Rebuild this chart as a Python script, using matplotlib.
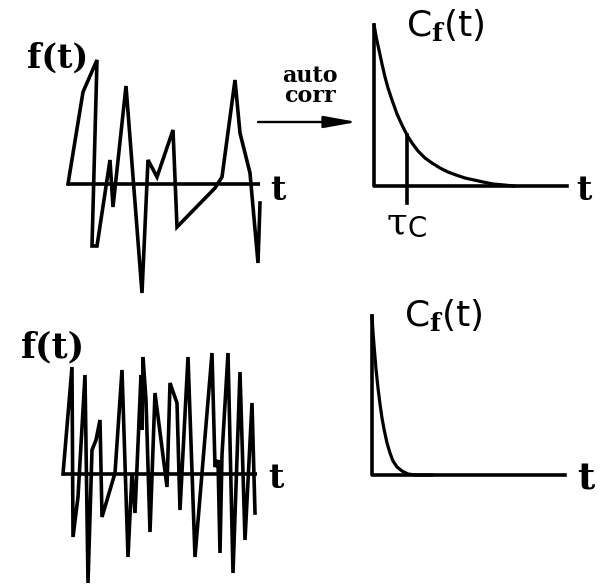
import matplotlib
matplotlib.use("Agg")
import matplotlib.pyplot as plt

plt.rcParams['mathtext.fontset'] = 'dejavuserif'

# slow signal: (t, f) vertices of the jagged trace
slow_t = [0, 15, 29, 24, 29, 42, 45, 58, 74, 80, 89, 105, 109, 147, 154, 167, 172, 182, 190, 192]
slow_f = [0, 92, 124, -62, -62, 24, -23, 98, -109, 24, 7, 54, -43, -4, 7, 104, 51, 11, -79, -19]

# fast signal
fast_t = [0, 9, 10, 15, 22, 25, 29, 33, 37, 39, 52, 59, 65, 69, 72, 78, 79, 80, 83, 87,
          92, 104, 107, 114, 117, 125, 132, 149, 152, 155, 157, 159, 165, 170, 177, 182,
          189, 192]
fast_f = [0, 107, -63, -23, 99, -109, 24, 34, 54, -43, 1, 104, -83, 1, -39, 99, 44, 117, 74, -58,
          81, -13, 91, 71, -36, 117, -83, 121, 7, 14, -79, 19, 121, -99, 102, -66,
          71, -39]

# autocorrelation of the slow signal (long correlation time)
slow_corr_t = [0, 1, 2, 3, 5, 8, 11, 14, 18, 23, 28, 33, 38, 44, 51, 58, 66, 74, 82, 91,
               100, 109, 119, 130, 140]
slow_corr_c = [161, 156, 150, 145, 136, 122, 109, 98, 86, 72, 61, 51, 43, 35, 28, 23, 18, 14, 11, 8,
               6, 4, 2, 1, 0]
tau_c = 33

# autocorrelation of the fast signal
fast_corr_t = [0, 1, 2, 3, 4, 6, 8, 10, 12, 15, 18, 21, 25, 30, 36, 43, 60]
fast_corr_c = [159, 143, 130, 118, 106, 87, 71, 57, 46, 32, 22, 14, 8, 4, 1, 0, 0]

axis_len = 193

W, H = 601, 588
fig = plt.figure(figsize=(W / 100, H / 100), dpi=100)
fig.patch.set_facecolor('white')


def panel(ox, oy, left, top, right, bottom):
    # one data unit per pixel, origin at (ox, oy)
    ax = fig.add_axes([left / W, 1 - bottom / H, (right - left) / W, (bottom - top) / H])
    ax.set_xlim(left - ox, right - ox)
    ax.set_ylim(oy - bottom, oy - top)
    ax.axis('off')
    return ax


slab = dict(family='DejaVu Serif', fontweight='bold', color='black')
lw = 2.6

# --- top left: slow f(t)
ax1 = panel(68, 184, 0, 0, 300, 300)
ax1.plot([0, 192], [0, 0], color='black', lw=lw, solid_capstyle='butt')
ax1.plot(slow_t, slow_f, color='black', lw=lw, solid_joinstyle='miter')
ax1.text(-10, 116, 'f(t)', fontsize=24, ha='center', va='baseline', **slab)
ax1.text(210, -16, 't', fontsize=24, ha='center', va='baseline', **slab)

# --- top right: C_f(t) with tau_c marker
ax2 = panel(374, 186, 240, 0, 601, 300)
ax2.plot([0, 0, axis_len], [slow_corr_c[0], 0, 0], color='black', lw=lw)
ax2.plot(slow_corr_t, slow_corr_c, color='black', lw=2.3)
ax2.plot([tau_c, tau_c], [slow_corr_c[slow_corr_t.index(tau_c)], -17], color='black', lw=lw)
ax2.text(71, 149, r'C$_\mathbf{f}$(t)', fontsize=26, family='DejaVu Sans', ha='center', va='baseline')
ax2.text(210, -14, 't', fontsize=24, ha='center', va='baseline', **slab)
ax2.text(23, -47, 'τ', fontsize=27, family='DejaVu Serif', ha='center', va='baseline')
ax2.text(43, -51, 'C', fontsize=20, family='DejaVu Sans', ha='center', va='baseline')
ax2.annotate('', xy=(-17, 64), xytext=(-116, 64),
             arrowprops=dict(arrowstyle='-|>,head_length=1.0,head_width=0.18',
                             mutation_scale=20, lw=1.7, color='black', shrinkA=0, shrinkB=0))
ax2.text(-64, 100, 'auto\ncorr', fontsize=16, ha='center', va='center',
         multialignment='center', linespacing=0.85, **slab)

# --- bottom left: fast f(t)
ax3 = panel(63, 474, 0, 300, 300, 588)
ax3.plot([0, 194], [0, 0], color='black', lw=lw, solid_capstyle='butt')
ax3.plot(fast_t, fast_f, color='black', lw=lw, solid_joinstyle='miter')
ax3.text(-10, 117, 'f(t)', fontsize=25, ha='center', va='baseline', **slab)
ax3.text(213, -14, 't', fontsize=24, ha='center', va='baseline', **slab)

# --- bottom right: fast C_f(t)
ax4 = panel(372, 475, 300, 300, 601, 588)
ax4.plot([0, 0, axis_len], [fast_corr_c[0], 0, 0], color='black', lw=lw)
ax4.plot(fast_corr_t, fast_corr_c, color='black', lw=2.3)
ax4.text(71, 148, r'C$_\mathbf{f}$(t)', fontsize=26, family='DejaVu Sans', ha='center', va='baseline')
ax4.text(214, -15, 't', fontsize=27, ha='center', va='baseline', **slab)

fig.savefig('out.png', dpi=100, facecolor='white')
